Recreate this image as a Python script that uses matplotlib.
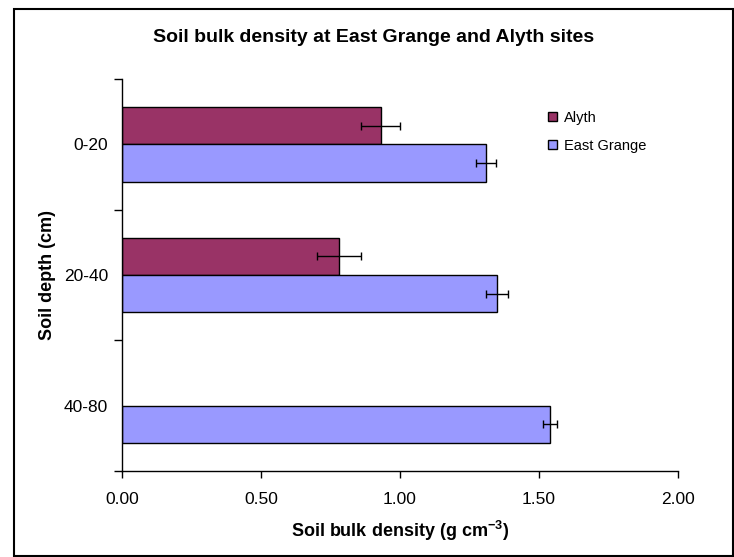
import numpy as np
import matplotlib
matplotlib.use("Agg")
import matplotlib.pyplot as plt
from matplotlib.patches import Patch, Rectangle

plt.rcParams['font.family'] = ['Liberation Sans', 'DejaVu Sans']
plt.rcParams['mathtext.fontset'] = 'custom'
plt.rcParams['mathtext.rm'] = 'Liberation Sans'
plt.rcParams['mathtext.bf'] = 'Liberation Sans:bold'

# bulk density by depth (g cm-3), means and error half-widths
depths = ['0-20', '20-40', '40-80']
alyth = [0.93, 0.78]
alyth_err = [0.07, 0.08]
east_grange = [1.31, 1.35, 1.54]
east_grange_err = [0.035, 0.04, 0.025]

ALYTH_COLOR = '#993366'
EAST_COLOR = '#9999FF'

fig = plt.figure(figsize=(7.34, 5.57), dpi=100)
ax = fig.add_axes([0.1662, 0.1544, 0.7575, 0.7038])

y = np.arange(len(depths))
h = 1 / 3.5
err_kw = dict(fmt='none', ecolor='black', elinewidth=1.0, capsize=3.2, capthick=1.0)

ax.barh(y[:len(alyth)] - h / 2, alyth, height=h, color=ALYTH_COLOR,
        edgecolor='black', linewidth=1.0, label='Alyth')
ax.barh(y + h / 2, east_grange, height=h, color=EAST_COLOR,
        edgecolor='black', linewidth=1.0, label='East Grange')
ax.errorbar(alyth, y[:len(alyth)] - h / 2, xerr=alyth_err, **err_kw)
ax.errorbar(east_grange, y + h / 2, xerr=east_grange_err, **err_kw)

ax.set_xlim(0, 2.0)
ax.set_ylim(len(depths) - 0.5, -0.5)
ax.set_xticks([0, 0.5, 1.0, 1.5, 2.0])
ax.set_xticklabels(['%.2f' % v for v in [0, 0.5, 1.0, 1.5, 2.0]], fontsize=12.5)
ax.set_yticks(y)
ax.set_yticklabels(depths, fontsize=12.5)
ax.set_yticks(np.arange(len(depths) + 1) - 0.5, minor=True)
ax.tick_params(axis='y', which='major', length=0, pad=10)
ax.tick_params(axis='y', which='minor', length=6, width=1, direction='out')
ax.tick_params(axis='x', length=5, width=1, direction='out', pad=10)

for side in ['top', 'right']:
    ax.spines[side].set_visible(False)
for side in ['left', 'bottom']:
    ax.spines[side].set_linewidth(1.0)
    ax.spines[side].set_color('black')

ax.set_xlabel(r'Soil bulk density (g cm$^{\mathbf{-3}}$)', fontsize=13,
              fontweight='bold', labelpad=8.5)
ax.set_ylabel('Soil depth (cm)', fontsize=13, fontweight='bold', labelpad=6)
fig.text(373.5 / 734, 1 - 37 / 557, 'Soil bulk density at East Grange and Alyth sites',
         ha='center', va='center', fontsize=14, fontweight='bold')

handles = [Patch(facecolor=ALYTH_COLOR, edgecolor='black', linewidth=1.0),
           Patch(facecolor=EAST_COLOR, edgecolor='black', linewidth=1.0)]
ax.legend(handles, ['Alyth', 'East Grange'], loc='upper left',
          bbox_to_anchor=(548 / 734, 1 - 111 / 557), bbox_transform=fig.transFigure,
          frameon=False, fontsize=10.5, handlelength=0.6, handleheight=0.6,
          handletextpad=0.5, labelspacing=0.95, borderaxespad=0, borderpad=0)

# chart area frame
fig.patches.append(Rectangle((14 / 734, 1 / 557), 719 / 734, 547 / 557,
                             transform=fig.transFigure, fill=False,
                             edgecolor='black', linewidth=1.5))

fig.savefig('out.png', dpi=100)
